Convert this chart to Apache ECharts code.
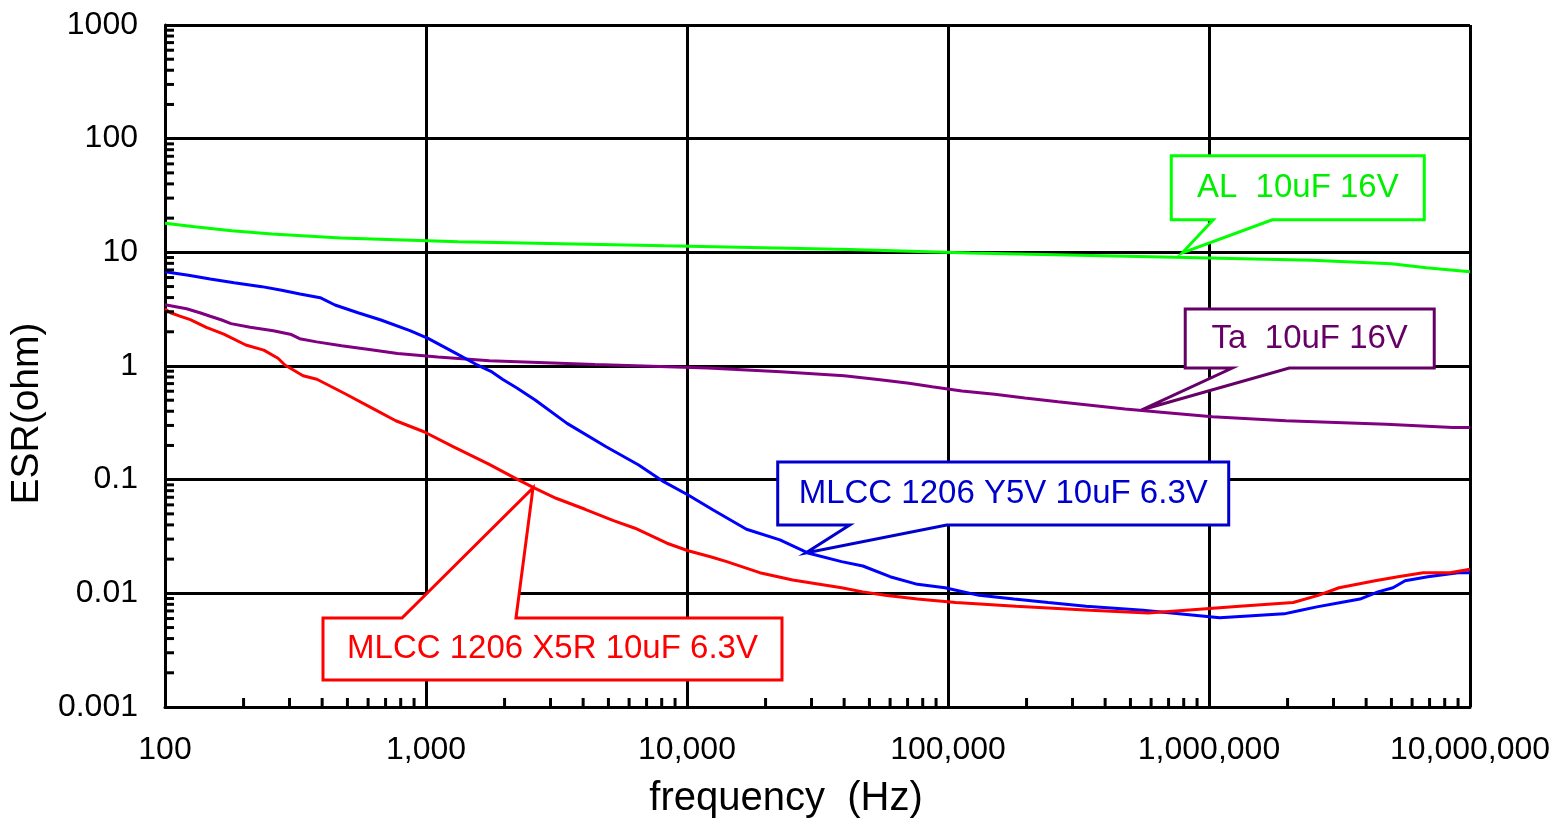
<!DOCTYPE html>
<html lang="en">
<head>
<meta charset="UTF-8">
<title>ESR vs frequency</title>
<script src="https://cdn.jsdelivr.net/npm/echarts@6/dist/echarts.min.js"></script>
<style>
    html, body { margin: 0; padding: 0; background: #fff; }
    #box { width: 1556px; height: 820px; }
</style>
</head>
<body>
<div id="box"></div>
<script>
// values: frequency (Hz) and ESR (ohm)
var alFreq = [100, 130, 180, 257, 472, 1330, 8200, 42000, 122000, 600000, 2480000, 5000000, 6800000, 10000000];
var alEsr = [18.0, 16.8, 15.5, 14.5, 13.4, 12.4, 11.4, 10.6, 9.87, 9.15, 8.5, 7.94, 7.32, 6.76];

var taFreq = [100, 121, 136, 149, 165, 179, 212, 260, 305, 328, 381, 475, 616, 778, 1110, 1750, 4440, 12000, 22900, 40000,
    54900, 70900, 86900, 113000, 151000, 197000, 264000, 366000, 477000, 690000, 1030000, 1970000, 4770000, 8600000, 10000000];
var taEsr = [3.46, 3.19, 2.94, 2.74, 2.54, 2.36, 2.19, 2.04, 1.89, 1.74, 1.63, 1.51, 1.39, 1.29, 1.20, 1.11, 1.03, 0.961, 0.891, 0.822,
    0.758, 0.705, 0.658, 0.603, 0.564, 0.523, 0.485, 0.447, 0.418, 0.388, 0.358, 0.330, 0.307, 0.288, 0.288];

var y5vFreq = [100, 123, 149, 184, 235, 280, 329, 393, 448, 549, 672, 868, 1018, 1303, 1554, 1790, 1970, 2230, 2620, 3470,
    4900, 6530, 8140, 10100, 12600, 16900, 22700, 29300, 39100, 47200, 60000, 76400, 97400, 131500, 179000, 242000, 338000, 559000,
    1100000, 1940000, 2250000, 2590000, 3200000, 3790000, 4440000, 5070000, 5640000, 6900000, 9000000, 10000000];
var y5vEsr = [6.75, 6.28, 5.83, 5.41, 4.99, 4.63, 4.30, 3.99, 3.44, 2.94, 2.54, 2.05, 1.75, 1.29, 1.035, 0.886, 0.761, 0.641, 0.502, 0.313,
    0.195, 0.1346, 0.096, 0.0733, 0.0541, 0.0366, 0.0295, 0.0225, 0.019, 0.0174, 0.014, 0.012, 0.0112, 0.0096, 0.0089, 0.0083, 0.0077, 0.0071,
    0.0061, 0.0066, 0.0071, 0.0076, 0.0083, 0.0089, 0.0103, 0.0112, 0.0129, 0.014, 0.0152, 0.0152];

var x5rFreq = [100, 105, 114, 125, 144, 168, 204, 239, 271, 288, 338, 382, 492, 632, 766, 982, 1270, 1740, 2230, 2620,
    3150, 4070, 5230, 6320, 8380, 10100, 12300, 14200, 19000, 25400, 39100, 47200, 57400, 76400, 107000, 182000, 350000, 584000,
    816000, 1310000, 2100000, 2620000, 3150000, 4330000, 5300000, 6610000, 8380000, 10000000];
var x5rEsr = [3.17, 2.94, 2.75, 2.56, 2.19, 1.91, 1.53, 1.38, 1.17, 1.02, 0.822, 0.764, 0.567, 0.418, 0.330, 0.264, 0.195, 0.137, 0.101, 0.0839,
    0.0686, 0.0549, 0.0436, 0.0374, 0.0276, 0.0237, 0.021, 0.019, 0.0152, 0.0131, 0.0112, 0.0103, 0.0096, 0.0089, 0.0083, 0.0077, 0.0071, 0.0067,
    0.0071, 0.0077, 0.0083, 0.0096, 0.0112, 0.0129, 0.014, 0.0152, 0.0152, 0.0163];

// callout labels and the point on the curve each one points at
var calloutText = ['AL  10uF 16V', 'Ta  10uF 16V', 'MLCC 1206 Y5V 10uF 6.3V', 'MLCC 1206 X5R 10uF 6.3V'];
var calloutFreq = [790000, 550000, 28500, 2570];
var calloutEsr = [9.9, 0.41, 0.0226, 0.0845];

// axis decades and log minor steps
var xDecades = [100, 1000, 10000, 100000, 1000000];
var yDecades = [0.001, 0.01, 0.1, 1, 10, 100];
var minorSteps = [2, 3, 4, 5, 6, 7, 8, 9];

// layout of the callout boxes, pixel offsets from the pointed point
// box: [left, top, right, bottom], base: where the pointer leaves the box
var calloutLayout = [
    { box: [-11, -97, 242, -33], base: [31, 90], color: '#00ff00', textColor: '#00ee00' },
    { box: [44, -101, 293, -42], base: [91, 148], color: '#660066', textColor: '#660066' },
    { box: [-28, -91, 423, -28], base: [44, 141], color: '#0000cc', textColor: '#0000cc' },
    { box: [-210, 130, 249, 192], base: [-131, -17], color: '#ff0000', textColor: '#ff0000' }
];

var FONT = "'Liberation Sans', Arial, sans-serif";

function pairs(xs, ys) {
    return xs.map(function (x, i) { return [x, ys[i]]; });
}

var yMinor = [];
yDecades.forEach(function (d) {
    minorSteps.forEach(function (m) { yMinor.push([100, +(d * m).toPrecision(2)]); });
});
var xMinor = [];
xDecades.forEach(function (d) {
    minorSteps.forEach(function (m) { xMinor.push([d * m, 0.001]); });
});

function lineSeries(name, xs, ys, color) {
    return {
        name: name,
        type: 'line',
        data: pairs(xs, ys),
        showSymbol: false,
        symbol: 'none',
        z: 3,
        lineStyle: { color: color, width: 3 },
        itemStyle: { color: color }
    };
}

function fmtX(v) {
    return String(Math.round(v)).replace(/\B(?=(\d{3})+(?!\d))/g, ',');
}
function fmtY(v) {
    return v >= 1 ? String(Math.round(v)) : String(+v.toPrecision(1));
}

var myChart = echarts.init(document.getElementById('box'));
var option = {
    backgroundColor: '#fff',
    animation: false,
    grid: { left: 165, right: 86, top: 25, bottom: 113, outerBoundsMode: 'none' },
    xAxis: {
        type: 'log',
        logBase: 10,
        min: 100,
        max: 10000000,
        name: 'frequency  (Hz)',
        nameLocation: 'middle',
        nameGap: 72,
        nameTextStyle: { fontFamily: FONT, fontSize: 40, color: '#000', padding: [0, 63, 0, 0] },
        axisLine: { show: true, lineStyle: { color: '#000', width: 3 } },
        axisTick: { show: false },
        axisLabel: { fontFamily: FONT, fontSize: 32, color: '#000', margin: 27, formatter: fmtX },
        splitLine: { show: true, lineStyle: { color: '#000', width: 3 } }
    },
    yAxis: {
        type: 'log',
        logBase: 10,
        min: 0.001,
        max: 1000,
        splitNumber: 6,
        name: 'ESR(ohm)',
        nameLocation: 'middle',
        nameRotate: 90,
        nameGap: 108,
        nameTextStyle: { fontFamily: FONT, fontSize: 39, color: '#000', padding: [0, 95, 0, 0] },
        axisLine: { show: true, lineStyle: { color: '#000', width: 3 } },
        axisTick: { show: false },
        axisLabel: { fontFamily: FONT, fontSize: 32, color: '#000', margin: 27, formatter: fmtY },
        splitLine: { show: true, lineStyle: { color: '#000', width: 3 } }
    },
    series: [
        {
            // callout boxes with their pointers
            type: 'custom',
            z: 2,
            silent: true,
            data: pairs(calloutFreq, calloutEsr),
            renderItem: function (params, api) {
                var i = params.dataIndex;
                var L = calloutLayout[i];
                var p = api.coord([api.value(0), api.value(1)]);
                var x0 = p[0] + L.box[0], y0 = p[1] + L.box[1];
                var x1 = p[0] + L.box[2], y1 = p[1] + L.box[3];
                var b0 = p[0] + L.base[0], b1 = p[0] + L.base[1];
                var pts;
                if (y1 < p[1]) {
                    pts = [[x0, y0], [x1, y0], [x1, y1], [b1, y1], [p[0], p[1]], [b0, y1], [x0, y1]];
                } else {
                    pts = [[x0, y0], [b0, y0], [p[0], p[1]], [b1, y0], [x1, y0], [x1, y1], [x0, y1]];
                }
                return {
                    type: 'group',
                    children: [
                        { type: 'polygon', shape: { points: pts }, style: { fill: '#fff', stroke: L.color, lineWidth: 3 } },
                        {
                            type: 'text', x: (x0 + x1) / 2, y: (y0 + y1) / 2,
                            style: { text: calloutText[i], fill: L.textColor, font: '33px ' + FONT, align: 'center', verticalAlign: 'middle' }
                        }
                    ]
                };
            }
        },
        lineSeries('AL 10uF 16V', alFreq, alEsr, '#00ff00'),
        lineSeries('Ta 10uF 16V', taFreq, taEsr, '#800080'),
        lineSeries('MLCC 1206 Y5V 10uF 6.3V', y5vFreq, y5vEsr, '#0000ff'),
        lineSeries('MLCC 1206 X5R 10uF 6.3V', x5rFreq, x5rEsr, '#ff0000'),
        {
            // minor ticks on the left axis
            type: 'custom',
            z: 4,
            silent: true,
            data: yMinor,
            renderItem: function (params, api) {
                var p = api.coord([api.value(0), api.value(1)]);
                return { type: 'line', shape: { x1: p[0], y1: p[1], x2: p[0] + 9, y2: p[1] }, style: { stroke: '#000', lineWidth: 3 } };
            }
        },
        {
            // minor ticks on the bottom axis
            type: 'custom',
            z: 4,
            silent: true,
            data: xMinor,
            renderItem: function (params, api) {
                var p = api.coord([api.value(0), api.value(1)]);
                return { type: 'line', shape: { x1: p[0], y1: p[1], x2: p[0], y2: p[1] - 9 }, style: { stroke: '#000', lineWidth: 3 } };
            }
        }
    ]
};
myChart.setOption(option);
</script>
</body>
</html>
